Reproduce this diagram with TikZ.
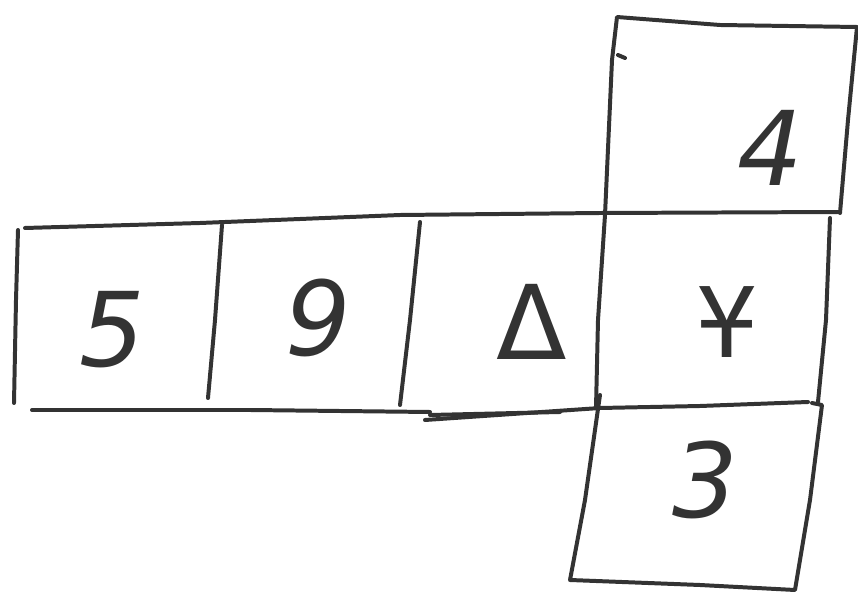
\documentclass[tikz,border=0pt]{standalone}
\usepackage{fontspec}
\setmainfont{DejaVu Sans}
\newfontfamily\altfont{Liberation Sans}
\begin{document}
\begin{tikzpicture}[x=0.03cm,y=-0.03cm,
  pen/.style={draw=ink,line width=3.4pt,line cap=round,line join=round},
  face/.style={text=ink,font=\fontsize{88}{88}\selectfont\itshape,inner sep=0pt}]
\definecolor{ink}{HTML}{333333}
\fill[white] (0,0) rectangle (858,595);
\useasboundingbox (0,0) rectangle (858,595);
% labels
\node[face] (f5) at (112,330) {5};
\node[face] (f9) at (318,318) {9};
\node[face] (fd) at (532,322) {\upshape Δ};
\node[face] (fy) at (727,322) {\altfont\upshape Ұ};
\node[face] (f4) at (770,148) {4};
\node[face] (f3) at (705,480) {3};
% top square
\draw[pen] (605,215) -- (612,60) -- (617,17) -- (720,25) -- (857,27) -- (848,120) -- (840,213);
\draw[pen] (618,55) -- (625,58);
% main row top line
\draw[pen] (25,228) -- (200,223) -- (400,215) -- (600,213) -- (840,212);
% left edge
\draw[pen] (18,230) -- (16,300) -- (14,403);
% dividers
\draw[pen] (222,225) -- (215,320) -- (208,398);
\draw[pen] (420,222) -- (410,320) -- (400,405);
\draw[pen] (605,215) -- (598,320) -- (596,408);
% right edge of row
\draw[pen] (830,218) -- (826,320) -- (818,402);
% bottom lines
\draw[pen] (32,410) -- (250,410) -- (430,412);
\draw[pen] (425,420) -- (600,408) -- (700,406) -- (808,402);
\draw[pen] (430,415) -- (560,412);
% bottom square
\draw[pen] (600,395) -- (585,500) -- (570,580) -- (700,585) -- (795,590) -- (810,500) -- (822,405) -- (812,403);
\end{tikzpicture}
\end{document}
